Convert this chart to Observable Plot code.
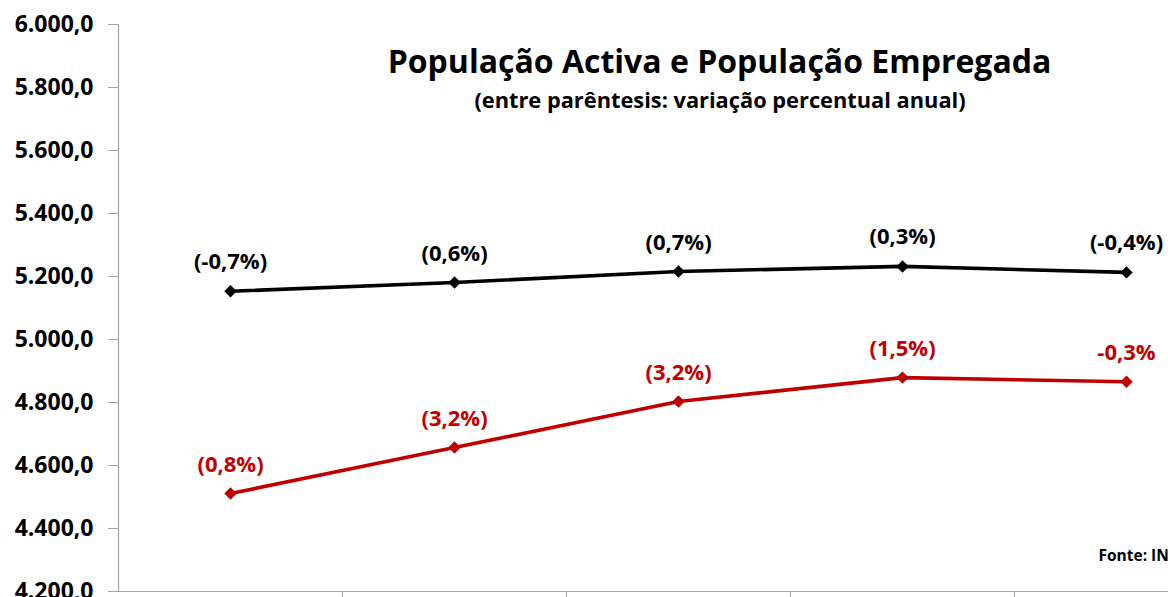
<!DOCTYPE html>
<html><head><meta charset="utf-8">
<script src="https://cdn.jsdelivr.net/npm/d3@7"></script>
<script src="https://cdn.jsdelivr.net/npm/@observablehq/plot@0.6"></script>
<style>
body{margin:0;overflow:hidden;background:#fff}
#chart svg{font-family:"Open Sans",sans-serif;overflow:hidden}
</style>
</head><body><div id="chart"></div>
<script>
const categories = ["2015", "2016", "2017", "2018", "2019"];
const series = ["População Activa", "População Empregada"];
const ativa = [5153, 5181, 5216, 5232, 5213];
const empregada = [4511, 4657, 4803, 4879, 4866];
const ativaLabels = ["(-0,7%)", "(0,6%)", "(0,7%)", "(0,3%)", "(-0,4%)"];
const empregadaLabels = ["(0,8%)", "(3,2%)", "(3,2%)", "(1,5%)", "-0,3%"];
const yTicks = [4200, 4400, 4600, 4800, 5000, 5200, 5400, 5600, 5800, 6000];
const title = "População Activa e População Empregada";
const subtitle = "(entre parêntesis: variação percentual anual)";
const source = "Fonte: INE";

const data = categories.flatMap((c, i) => [
  {cat: c, i, serie: series[0], value: ativa[i], label: ativaLabels[i]},
  {cat: c, i, serie: series[1], value: empregada[i], label: empregadaLabels[i]}
]);
const boundaries = categories.slice(1).map((c, i) => i + 0.5);

const fmt = d3.formatLocale({decimal: ",", thousands: ".", grouping: [3], currency: ["", ""]}).format(",.1f");
const font = "'Open Sans', sans-serif";

const chart = Plot.plot({
  width: 1168, height: 597,
  marginTop: 24, marginBottom: 6, marginLeft: 118, marginRight: 0,
  style: {fontFamily: font, background: "#fff"},
  x: {type: "linear", domain: [-0.5, categories.length - 0.5], range: [118, 118 + 224 * categories.length], axis: null},
  y: {domain: [4200, 6000], axis: null},
  color: {domain: series, range: ["#000000", "#c00000"]},
  marks: [
    Plot.ruleX([-0.5], {stroke: "#a6a6a6", strokeWidth: 1.2}),
    Plot.ruleY([4200], {stroke: "#a6a6a6", strokeWidth: 1.2}),
    Plot.axisY(yTicks, {tickSize: 10, tickPadding: 15, stroke: "#a6a6a6", fill: "#000", fontSize: 23, fontWeight: "bold", tickFormat: fmt, label: null}),
    Plot.axisX(boundaries, {anchor: "bottom", tickSize: 8, stroke: "#a6a6a6", tickFormat: () => "", label: null}),
    Plot.line(data, {x: "i", y: "value", z: "serie", stroke: "serie", strokeWidth: 3.6}),
    Plot.dot(data, {x: "i", y: "value", fill: "serie", symbol: "diamond2", r: 5.6, stroke: "none"}),
    Plot.text(data, {x: "i", y: "value", text: "label", fill: "serie", dy: -29, fontSize: 22, fontWeight: "bold"}),
    Plot.text([title], {frameAnchor: "top-left", dx: 601, dy: 38, fontSize: 32, fontWeight: "bold", fill: "#000", textAnchor: "middle", lineAnchor: "middle"}),
    Plot.text([subtitle], {frameAnchor: "top-left", dx: 601.5, dy: 77, fontSize: 21.8, fontWeight: "bold", fill: "#000", textAnchor: "middle", lineAnchor: "middle"}),
    Plot.text([source], {frameAnchor: "top-left", dx: 980, dy: 532, fontSize: 15.5, fontWeight: "bold", fill: "#000", textAnchor: "start", lineAnchor: "middle"})
  ]
});
document.getElementById("chart").appendChild(chart);
</script>
</body></html>
